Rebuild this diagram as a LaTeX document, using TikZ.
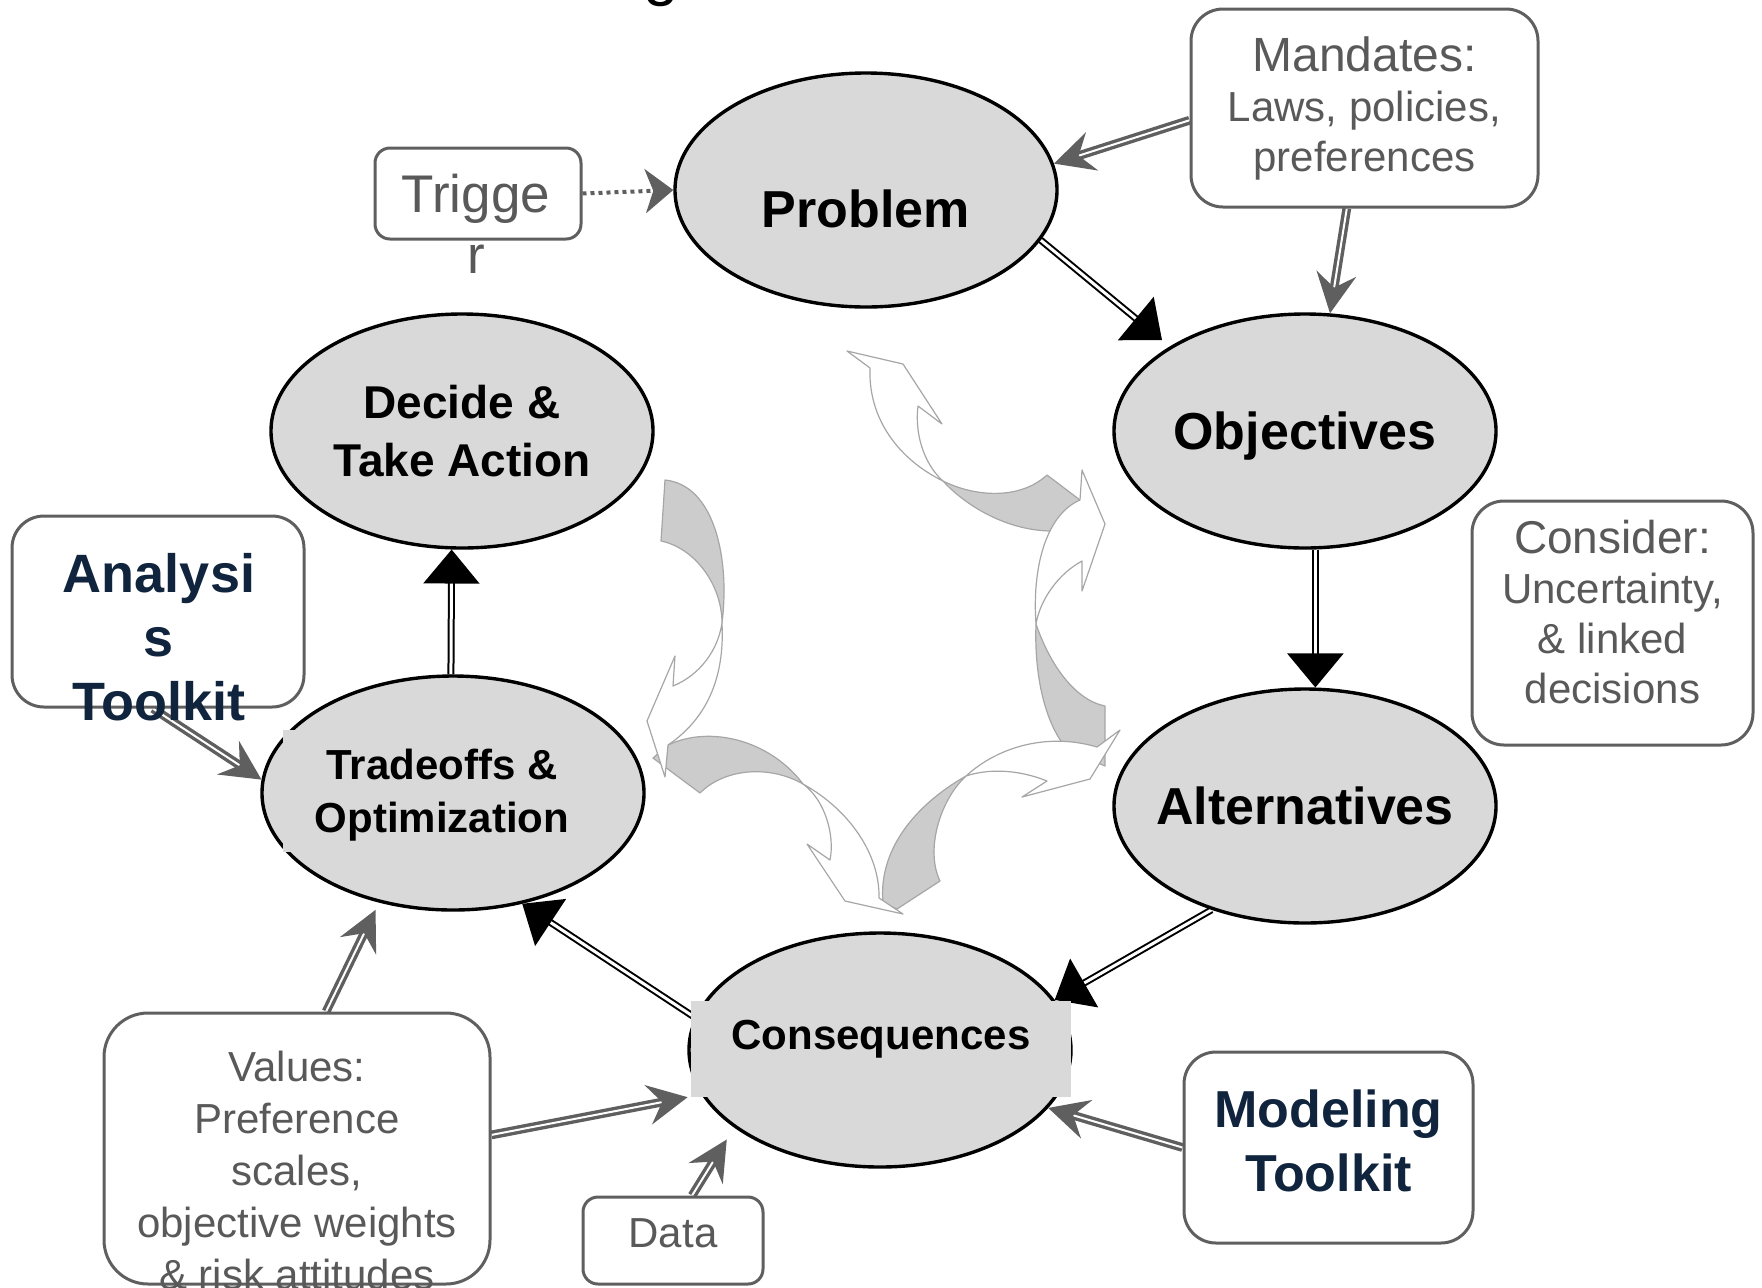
\documentclass[tikz,border=0pt]{standalone}
\usepackage{fontspec}
\setmainfont{Liberation Sans}
\usepackage{tikz}
\usetikzlibrary{arrows.meta,shapes.geometric}
\pgfdeclarelayer{edgelayer}
\pgfdeclarelayer{nodelayer}
\pgfsetlayers{edgelayer,nodelayer,main}
\definecolor{stagefill}{HTML}{D9D9D9}
\definecolor{boxline}{HTML}{5F5F5F}
\definecolor{boxtext}{HTML}{595959}
\definecolor{toolnavy}{HTML}{10243E}
\definecolor{swirlfill}{HTML}{CCCCCC}
\definecolor{swirlline}{HTML}{A6A6A6}
\tikzstyle{stage}=[ellipse, draw=black, line width=1.7pt, fill=stagefill, minimum width=191pt, minimum height=117pt, inner sep=0pt, align=center, text depth=0pt, font=\bfseries\fontsize{26}{31}\selectfont]
\tikzstyle{patch}=[rectangle, fill=stagefill, inner sep=0pt, align=center, text depth=0pt, font=\bfseries\fontsize{21}{26.5}\selectfont]
\tikzstyle{infobox}=[rectangle, rounded corners=16pt, draw=boxline, line width=1.5pt, fill=white, inner sep=0pt, align=center, text=boxtext, font=\fontsize{21}{25}\selectfont]
\tikzstyle{toolbox}=[infobox, text=toolnavy, font=\bfseries\fontsize{26}{32}\selectfont]
\tikzstyle{boxtext}=[inner sep=0pt, align=center, anchor=north, text=boxtext, font=\fontsize{21}{26}\selectfont]
\tikzstyle{flow}=[draw=black, line width=1pt, double=white, double distance=1.5pt, -{Triangle[length=17pt,width=28pt]}]
\tikzstyle{feed}=[draw=boxline, line width=1.7pt, double=white, double distance=1pt, -{Stealth[length=20pt,width=20pt,inset=7pt]}]
\tikzstyle{cue}=[draw=boxline, line width=2pt, dash pattern=on 2pt off 2pt, -{Stealth[length=14pt,width=22pt,inset=4pt]}]
\tikzstyle{swirlback}=[fill=swirlfill, draw=swirlline, line width=0.6pt, line join=round]
\tikzstyle{swirlfront}=[fill=white, draw=swirlline, line width=0.6pt, line join=round]

\begin{document}
\begin{tikzpicture}[x=0.5pt, y=-0.5pt]
	\useasboundingbox (0,0) rectangle (1762,1287);
	\begin{pgfonlayer}{nodelayer}

	%title (cut off)
		\node [font=\fontsize{32}{38}\selectfont, anchor=base, inner sep=0pt] (titleg) at (661,-6.4) {g};

	%stages
		\node [style=stage, text height=37pt] (problem) at (866,190) {Problem};
		\node [style=stage] (objectives) at (1305,431) {Objectives};
		\node [style=stage, inner xsep=-12pt] (alternatives) at (1305,806) {Alternatives};
		\node [style=stage] (consequences) at (880,1050) {};
		\node [style=patch, minimum width=190pt, minimum height=48pt, text height=6pt, text depth=6pt] (consequencetext) at (881,1049) {Consequences};
		\node [style=stage] (tradeoffs) at (453,793) {};
		\node [style=patch, minimum width=159pt, minimum height=61pt] (tradeofftext) at (442,791) {Tradeoffs \&\\Optimization};
		\node [style=stage, font=\bfseries\fontsize{23}{29}\selectfont] (decide) at (462,431) {Decide \&\\Take Action};

	%boxes
		\node [style=infobox, rounded corners=7.5pt, minimum width=103pt, minimum height=45.5pt] (trigger) at (478,193.5) {};
		\node [style=boxtext, font=\fontsize{26.5}{30.5}\selectfont] (triggertext) at (476,174) {Trigge\\r};
		\node [style=infobox, minimum width=173.5pt, minimum height=99pt] (mandates) at (1364.5,108) {{\fontsize{24}{25}\selectfont Mandates:}\\Laws, policies,\\preferences};
		\node [style=infobox, minimum width=140.5pt, minimum height=122pt, text depth=11pt] (consider) at (1612.5,623) {{\fontsize{23}{25}\selectfont Consider:}\\Uncertainty,\\\& linked\\decisions};
		\node [style=toolbox, minimum width=144.5pt, minimum height=95.5pt, text depth=7pt] (modeling) at (1328.5,1147.5) {Modeling\\Toolkit};
		\node [style=infobox, rounded corners=7.5pt, minimum width=90pt, minimum height=43.5pt, text depth=7pt] (data) at (673,1240.5) {Data};
		\node [style=infobox, rounded corners=22pt, minimum width=193pt, minimum height=135.5pt] (values) at (297,1148.5) {};
		\node [style=boxtext] (valuestext) at (297,1051) {Values:\\Preference\\scales,\\objective weights\\\& risk attitudes};
		\node [style=infobox, minimum width=146pt, minimum height=95.5pt] (analysis) at (158,611.5) {};
		\node [style=boxtext, text=toolnavy, font=\bfseries\fontsize{27}{32}\selectfont] (analysistext) at (159,553) {Analysi\\s\\Toolkit};

	\end{pgfonlayer}
	\begin{pgfonlayer}{edgelayer}

	%swirl, top
		\draw [style=swirlback] (943,481) .. controls (975,497) and (1020,500) .. (1047,475) -- (1080,500) -- (1050,531) .. controls (1005,530) and (965,505) .. (943,481) -- cycle;
		\draw [style=swirlfront] (943,481) .. controls (900,460) and (868,420) .. (870,368) -- (847,351) -- (903,364) -- (942,424) -- (918,406) .. controls (914,440) and (928,468) .. (943,481) -- cycle;
	%swirl, right
		\draw [style=swirlback] (1036,624) .. controls (1050,665) and (1075,700) .. (1105,706) -- (1105,766) -- (1068,750) .. controls (1045,725) and (1034,675) .. (1036,624) -- cycle;
		\draw [style=swirlfront] (1036,624) .. controls (1032,570) and (1045,515) .. (1080,500) -- (1082,470) -- (1105,524) -- (1082,591) -- (1082,561) .. controls (1058,574) and (1040,600) .. (1036,624) -- cycle;
	%swirl, lower right
		\draw [style=swirlback] (966,776) .. controls (940,800) and (925,850) .. (940,881) -- (897,909) -- (883,903) .. controls (878,850) and (915,805) .. (966,776) -- cycle;
		\draw [style=swirlfront] (966,776) .. controls (1000,745) and (1050,733) .. (1097,747) -- (1120,730) -- (1090,779) -- (1022,797) -- (1047,781) .. controls (1020,770) and (990,768) .. (966,776) -- cycle;
	%swirl, lower left
		\draw [style=swirlback] (803,784) .. controls (770,740) and (710,725) .. (668,745) -- (653,758) -- (700,793) .. controls (725,768) and (770,765) .. (803,784) -- cycle;
		\draw [style=swirlfront] (803,784) .. controls (825,800) and (835,835) .. (830,860) -- (807,844) -- (845,901) -- (903,914) -- (879,898) .. controls (880,855) and (850,810) .. (803,784) -- cycle;
	%swirl, left
		\draw [style=swirlback] (665,480) .. controls (715,485) and (730,560) .. (722,623) .. controls (722,585) and (695,548) .. (661,541) -- cycle;
		\draw [style=swirlfront] (722,623) .. controls (725,680) and (705,720) .. (668,745) -- (665,777) -- (647,721) -- (675,656) -- (673,686) .. controls (700,675) and (718,650) .. (722,623) -- cycle;

	%cycle
		\draw [style=flow, shorten >=5pt] (problem.-16) to (objectives.148);
		\draw [style=flow] (objectives.-85) to (alternatives.85);
		\draw [style=flow] (alternatives.228) to (consequences.16);
		\draw [style=flow] (consequences.170) to (tradeoffs.-58);
		\draw [style=flow] (tradeoffs.91) to (decide.-95);

	%inputs
		\draw [style=cue] (trigger.east) to (problem.west);
		\draw [style=feed] (mandates.184) to (problem.8);
		\draw [style=feed] (mandates.-100) to (objectives.78);
		\draw [style=feed] (analysis.-93) to (tradeoffs.176);
		\draw [style=feed, shorten >=4pt] (values.78) to (tradeoffs.236);
		\draw [style=feed, shorten >=7pt] (values.4) to (consequences.194);
		\draw [style=feed, shorten >=7pt] (data.67) to (consequences.208);
		\draw [style=feed] (modeling.west) to (consequences.-19);

	\end{pgfonlayer}
\end{tikzpicture}
\end{document}
